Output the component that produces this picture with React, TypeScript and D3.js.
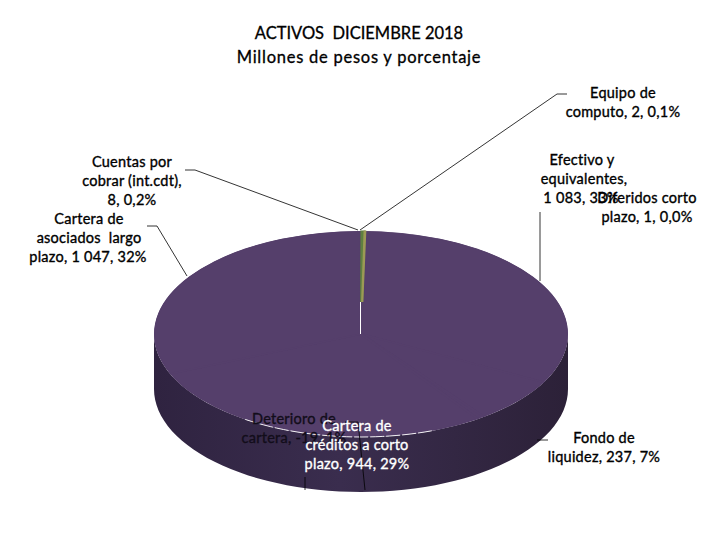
import React from "react";
import * as d3 from "d3";

const titleLines = ["ACTIVOS  DICIEMBRE 2018", "Millones de pesos y porcentaje"];
const titleSpacing = [0, 0.75];
const categories = ["Efectivo", "Diferidos", "Fondo", "Deterioro", "Credito", "Asociados", "Cuentas", "Equipo"];
const values = [1083, 1, 237, 19, 944, 1047, 8, 2];
const sliceColors = ["#553f6b", "#a97c34", "#553f6b", "#553f6b", "#553f6b", "#553f6b", "#5f8040", "#9c9a55"];

const labels = [
  { lines: ["Equipo de", "computo, 2, 0,1%"], x: 623, y: 98, fill: "#000" },
  { lines: ["Efectivo y"], x: 582, y: 165, fill: "#000" },
  { lines: ["equivalentes,"], x: 584, y: 184, fill: "#000" },
  { lines: ["1 083, 33%"], x: 581, y: 203, fill: "#000" },
  { lines: ["Diferidos corto", "plazo, 1, 0,0%"], x: 647, y: 203, fill: "#000" },
  { lines: ["Cuentas por", "cobrar (int.cdt),", "8, 0,2%"], x: 132, y: 167, fill: "#000" },
  { lines: ["Cartera de"], x: 89, y: 224, fill: "#000" },
  { lines: ["asociados  largo"], x: 89, y: 243, fill: "#000" },
  { lines: ["plazo, 1 047, 32%"], x: 88, y: 262, fill: "#000" },
  { lines: ["Fondo de", "liquidez, 237, 7%"], x: 604, y: 443, fill: "#000" },
  { lines: ["Deterioro de"], x: 294, y: 424, fill: "#120d1a" },
  { lines: ["cartera, -19, 1%"], x: 294, y: 443, fill: "#120d1a" },
  { lines: ["Cartera de"], x: 357, y: 431, fill: "#fff" },
  { lines: ["créditos a corto"], x: 357, y: 450, fill: "#fff" },
  { lines: ["plazo, 944, 29%"], x: 357, y: 469, fill: "#fff" },
];

const leaders: [number, number][][] = [
  [[360, 230], [557, 94], [567, 94]],
  [[358, 230], [195, 170], [185, 170]],
  [[147, 226], [157, 226], [187, 276]],
  [[540, 212], [540, 281]],
  [[537, 440], [548, 440]],
  [[345, 422], [358, 422], [365, 490]],
  [[305, 477], [305, 490]],
];

const cx = 361, cy = 334, rx = 207, ry = 103, depth = 55;
const font = "Lato, Carlito, 'Open Sans', sans-serif";

export default function App() {
  const offset = (1.2 * Math.PI) / 180;
  const pie = d3.pie<number>().sort(null).value((d) => d).startAngle(offset).endAngle(2 * Math.PI + offset);
  const arcs = pie(values);
  const arc = d3.arc<d3.PieArcDatum<number>>().innerRadius(0).outerRadius(rx);
  const yScale = d3.scaleLinear().domain([0, 1]).range([cy, cy - ry]);
  const isThin = (i: number) => values[i] < 10;

  const rimPoints = d3.range(0, 181, 3).map((deg) => {
    const a = (deg * Math.PI) / 180;
    return [cx + rx * Math.cos(a), cy + ry * Math.sin(a)] as [number, number];
  });
  const side =
    d3.line()(rimPoints)! +
    "L" +
    d3.line()(rimPoints.slice().reverse().map(([x, y]) => [x, y + depth] as [number, number]))!.slice(1) +
    "Z";
  const seam = d3.line()(
    d3.range(70, 125, 2).map((deg) => {
      const a = (deg * Math.PI) / 180;
      return [cx + rx * Math.cos(a), cy + ry * Math.sin(a)] as [number, number];
    })
  )!;

  return (
    <svg width={720} height={540} style={{ position: "absolute", left: 0, top: 0, background: "#fff" }}>
      <defs>
        <linearGradient id="side" x1="0" x2="1" y1="0" y2="0">
          <stop offset="0" stopColor="#2f2340" />
          <stop offset="0.45" stopColor="#3a2d4e" />
          <stop offset="1" stopColor="#2c2138" />
        </linearGradient>
        <clipPath id="wedgeClip">
          <rect x={cx - 20} y={cy - ry - 2} width={40} height={73} />
        </clipPath>
        <clipPath id="topClip">
          <ellipse cx={cx} cy={cy} rx={rx} ry={ry} />
        </clipPath>
      </defs>
      {titleLines.map((t, i) => (
        <text key={t} x={359} y={39 + i * 24} textAnchor="middle" fontFamily={font} fontSize={16.5} letterSpacing={titleSpacing[i]} fill="#000" stroke="#000" strokeWidth={0.3} style={{ whiteSpace: "pre" }}>
          {t}
        </text>
      ))}
      <path d={side} fill="url(#side)" />
      <g clipPath="url(#topClip)">
        <g transform={`translate(${cx},${yScale(0)}) scale(1,${ry / rx})`}>
          {arcs.map((a, i) =>
            isThin(i) ? null : (
              <path key={categories[i]} d={arc(a)!} fill={sliceColors[i]} stroke={sliceColors[i]} strokeWidth={3} />
            )
          )}
        </g>
      </g>
      <g clipPath="url(#wedgeClip)">
        <g transform={`translate(${cx},${yScale(0)}) scale(1,${ry / rx})`}>
          {arcs.map((a, i) =>
            isThin(i) ? (
              <path key={categories[i]} d={arc(a)!} fill={sliceColors[i]} stroke={sliceColors[i]} strokeWidth={2} />
            ) : null
          )}
        </g>
      </g>
      <line x1={cx - 0.5} x2={cx - 0.5} y1={yScale(1) + 71} y2={cy} stroke="#fff" strokeWidth={1} />
      <path d={seam} fill="none" stroke="#fff" strokeWidth={1} strokeDasharray="14 2" opacity={0.9} />
      {leaders.map((p, i) => (
        <path key={i} d={d3.line()(p)!} fill="none" stroke="#000" strokeWidth={0.8} />
      ))}
      {labels.map((l, i) => (
        <text key={i} textAnchor="middle" fontFamily={font} fontSize={14.5} letterSpacing={0.25} fill={l.fill} stroke={l.fill} strokeWidth={0.35} style={{ whiteSpace: "pre" }}>
          {l.lines.map((s, j) => (
            <tspan key={j} x={l.x} y={l.y + j * 19}>
              {s}
            </tspan>
          ))}
        </text>
      ))}
    </svg>
  );
}
